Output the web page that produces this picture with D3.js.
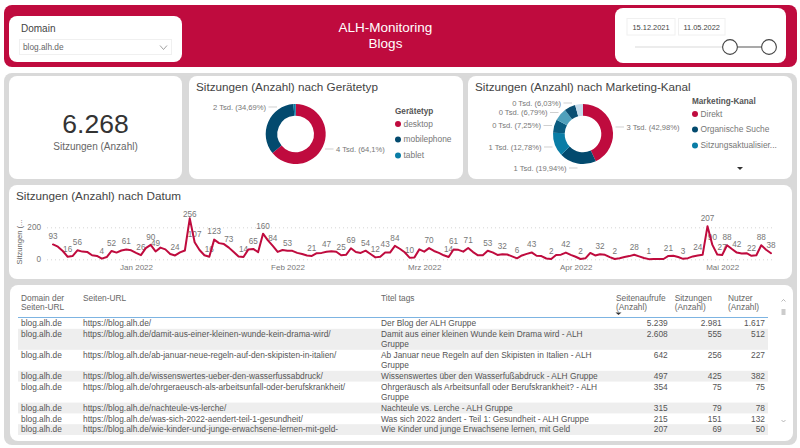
<!DOCTYPE html>
<html>
<head>
<meta charset="utf-8">
<script src="https://cdn.jsdelivr.net/npm/d3@7"></script>
<style>
  html, body { margin: 0; padding: 0; background: #fff; overflow: hidden; }
  svg { display: block; font-family: "Liberation Sans", Arial, sans-serif; }
</style>
</head>
<body>
<svg id="chart" width="800" height="448"></svg>
<script>
// --- data ---
const totalSessions = 6268;

const deviceNames = ["desktop", "mobilephone", "tablet"];
const deviceShares = [64.1, 34.69, 1.21];

const channelNames = ["Direkt", "Organische Suche", "Sitzungsaktualisier..."];
const channelShares = [42.98, 19.94, 12.78, 7.25, 6.79, 6.03, 4.23];

// Sitzungen pro Tag, 15.12.2021 - 11.05.2022
const dailySessions = [
  93, 79, 52, 16, 20, 56, 48, 46, 25, 21, 4, 14, 52, 42, 55, 61, 56, 40, 26, 70,
  90, 49, 73, 62, 33, 24, 43, 55, 256, 107, 58, 25, 16, 123, 101, 95, 73, 45, 17, 14,
  62, 65, 45, 160, 118, 84, 46, 58, 53, 53, 40, 33, 24, 21, 38, 40, 47, 51, 47, 25,
  28, 69, 46, 40, 54, 33, 12, 16, 43, 42, 84, 66, 44, 10, 12, 62, 48, 70, 52, 40,
  25, 14, 61, 59, 48, 71, 45, 25, 26, 53, 43, 27, 32, 30, 18, 6, 24, 34, 43, 22,
  20, 5, 2, 27, 29, 42, 28, 16, 2, 6, 40, 24, 32, 28, 14, 2, 7, 14, 20, 28,
  18, 8, 1, 2, 2, 2, 21, 22, 14, 3, 7, 18, 24, 28, 207, 90, 30, 27, 88, 64,
  42, 36, 38, 22, 25, 88, 60, 38
];
// Tage (Index in dailySessions), die eine Beschriftung haben
const labelledDays = [
  0, 3, 5, 10, 12, 15, 18, 20, 21, 25, 28, 29, 32, 33, 36, 39, 41, 43, 45, 48,
  53, 56, 59, 61, 64, 66, 68, 70, 73, 77, 81, 82, 85, 89, 92, 95, 98, 102, 105, 108,
  112, 115, 119, 122, 126, 129, 132, 134, 135, 137, 138, 140, 143, 145, 147
];
const monthNames = ["Jan 2022", "Feb 2022", "Mrz 2022", "Apr 2022", "Mai 2022"];
const yTicks = [0, 200];

const tableHeaders = [["Domain der", "Seiten-URL"], ["Seiten-URL"], ["Titel tags"],
  ["Seitenaufrufe", "(Anzahl)"], ["Sitzungen", "(Anzahl)"], ["Nutzer", "(Anzahl)"]];
const pageDomains = ["blog.alh.de", "blog.alh.de", "blog.alh.de", "blog.alh.de",
  "blog.alh.de", "blog.alh.de", "blog.alh.de", "blog.alh.de"];
const pageUrls = [
  "https://blog.alh.de/",
  "https://blog.alh.de/damit-aus-einer-kleinen-wunde-kein-drama-wird/",
  "https://blog.alh.de/ab-januar-neue-regeln-auf-den-skipisten-in-italien/",
  "https://blog.alh.de/wissenswertes-ueber-den-wasserfussabdruck/",
  "https://blog.alh.de/ohrgeraeusch-als-arbeitsunfall-oder-berufskrankheit/",
  "https://blog.alh.de/nachteule-vs-lerche/",
  "https://blog.alh.de/was-sich-2022-aendert-teil-1-gesundheit/",
  "https://blog.alh.de/wie-kinder-und-junge-erwachsene-lernen-mit-geld-"
];
const pageTitles = [
  "Der Blog der ALH Gruppe",
  "Damit aus einer kleinen Wunde kein Drama wird - ALH Gruppe",
  "Ab Januar neue Regeln auf den Skipisten in Italien - ALH Gruppe",
  "Wissenswertes über den Wasserfußabdruck - ALH Gruppe",
  "Ohrgeräusch als Arbeitsunfall oder Berufskrankheit? - ALH Gruppe",
  "Nachteule vs. Lerche - ALH Gruppe",
  "Was sich 2022 ändert - Teil 1: Gesundheit - ALH Gruppe",
  "Wie Kinder und junge Erwachsene lernen, mit Geld"
];
const pageViews = [5239, 2608, 642, 497, 354, 315, 215, 207];
const pageSessions = [2981, 555, 256, 425, 75, 79, 151, 69];
const pageUsers = [1617, 512, 227, 382, 75, 78, 132, 50];

// --- helpers ---
const crimson = "#bf0b3e";
const navy = "#034a6e";
const teal = "#0a7da6";
const textGrey = "#666";
const tableFont = 8.35;
const titleFont = 11.7;
const de = d3.formatLocale({ decimal: ",", thousands: ".", grouping: [3], currency: ["", " €"] });
const fmtInt = de.format(",d");
const fmtPct = de.format(".2~f");

const svg = d3.select("#chart");

function card(x, y, w, h, r, fill) {
  svg.append("rect").attr("x", x).attr("y", y).attr("width", w).attr("height", h)
    .attr("rx", r).attr("fill", fill || "#fff");
}
function label(x, y, str, size, color, anchor, weight) {
  return svg.append("text").attr("x", x).attr("y", y).attr("dy", "0.35em")
    .attr("font-size", size).attr("fill", color || textGrey)
    .attr("text-anchor", anchor || "start").attr("font-weight", weight || "normal")
    .text(str);
}
function sliceLabel(share) {
  return Math.round(share / 100 * totalSessions / 1000) + " Tsd. (" + fmtPct(share) + "%)";
}

// --- background panels ---
card(4, 5, 793, 62, 8, crimson);
card(4, 73, 793, 372, 8, "#d9d9d9");

// --- header ---
card(9, 16, 173, 46, 8);
label(21, 28, "Domain", 10, "#444");
svg.append("rect").attr("x", 19.5).attr("y", 39.5).attr("width", 152).attr("height", 15)
  .attr("fill", "#fff").attr("stroke", "#f0f0f0");
label(23, 47, "blog.alh.de", 8.3, textGrey);
svg.append("path").attr("d", "M160 45.5L163.5 49.5L167 45.5").attr("fill", "none")
  .attr("stroke", "#888").attr("stroke-width", 0.8);

label(385.5, 27, "ALH-Monitoring", 13.5, "#fff", "middle");
label(385.5, 43, "Blogs", 13.5, "#fff", "middle");

card(615, 8, 171, 55, 8);
[[627, 48, "15.12.2021"], [678.5, 46.5, "11.05.2022"]].forEach(function (b) {
  svg.append("rect").attr("x", b[0]).attr("y", 18.5).attr("width", b[1]).attr("height", 16.5)
    .attr("fill", "#fff").attr("stroke", "#f0f0f0");
  label(b[0] + b[1] / 2, 27, b[2], 7.4, "#444", "middle");
});
svg.append("line").attr("x1", 635).attr("x2", 730).attr("y1", 47).attr("y2", 47)
  .attr("stroke", "#e6e6e6").attr("stroke-width", 1.5);
svg.append("line").attr("x1", 730).attr("x2", 769).attr("y1", 47).attr("y2", 47)
  .attr("stroke", "#555").attr("stroke-width", 1.2);
[730, 769].forEach(function (cx) {
  svg.append("circle").attr("cx", cx).attr("cy", 47).attr("r", 7.4)
    .attr("fill", "#fff").attr("stroke", "#444").attr("stroke-width", 1.1);
});

// --- KPI ---
card(9, 76, 173, 103, 8);
label(95.5, 124, fmtInt(totalSessions), 26.5, "#333", "middle");
label(95.5, 146, "Sitzungen (Anzahl)", 10, textGrey, "middle");

// --- donuts ---
function donut(opts) {
  const arcs = d3.pie().sort(null)(opts.shares);
  const arc = d3.arc().innerRadius(18.3).outerRadius(30);
  const g = svg.append("g").attr("transform", "translate(" + opts.cx + ",134)");
  g.selectAll("path").data(arcs).enter().append("path")
    .attr("d", arc)
    .attr("fill", function (d, i) { return opts.colors[i]; });

  // labels with short leader lines
  opts.slots.forEach(function (s, i) {
    const side = s.x > opts.cx ? 1 : -1;
    svg.append("line").attr("x1", s.x - side * 2.5).attr("x2", s.x - side * 11)
      .attr("y1", s.y).attr("y2", s.y).attr("stroke", "#bbb").attr("stroke-width", 0.7);
    label(s.x, s.y, sliceLabel(opts.shares[i]), 7.6, "#777", side > 0 ? "start" : "end");
  });
}
function legend(x, titleY, title, names, colors, ys) {
  label(x, titleY, title, 8.2, "#555", "start", "bold");
  names.forEach(function (n, i) {
    svg.append("circle").attr("cx", x + 3).attr("cy", ys[i]).attr("r", 3).attr("fill", colors[i]);
    label(x + 8.5, ys[i], n, 8.4, "#777");
  });
}

card(189, 76, 274, 103, 8);
label(196, 87, "Sitzungen (Anzahl) nach Gerätetyp", titleFont, "#444");
donut({
  cx: 295.7, shares: deviceShares, colors: [crimson, navy, teal],
  slots: [{ x: 336, y: 149 }, { x: 266, y: 107 }]
});
legend(395, 111, "Gerätetyp", deviceNames, [crimson, navy, teal], [124, 139.5, 155.5]);

card(468, 76, 324, 103, 8);
label(475, 87, "Sitzungen (Anzahl) nach Marketing-Kanal", titleFont, "#444");
donut({
  cx: 583, shares: channelShares,
  colors: [crimson, navy, teal, "#0a5c80", "#4fa0bc", "#0b4f72", "#c5dcec"],
  slots: [{ x: 626.5, y: 127 }, { x: 566.5, y: 168 }, { x: 541.5, y: 147 },
    { x: 541, y: 125.5 }, { x: 547.5, y: 112.5 }, { x: 561, y: 103 }]
});
legend(692, 101, "Marketing-Kanal", channelNames, [crimson, navy, teal], [114, 129.5, 145.5]);
svg.append("path").attr("d", "M737 167L743 167L740 170Z").attr("fill", "#333");

// --- line chart ---
card(9, 185, 783, 94, 8);
label(16, 196, "Sitzungen (Anzahl) nach Datum", titleFont, "#444");
svg.append("text").attr("transform", "translate(19,242) rotate(-90)").attr("dy", "0.35em")
  .attr("text-anchor", "middle").attr("font-size", 7.6).attr("fill", textGrey).text("Sitzungen (...");

const days = d3.utcDay.range(new Date(Date.UTC(2021, 11, 15)), new Date(Date.UTC(2022, 4, 12)));
const xScale = d3.scaleUtc().domain(d3.extent(days)).range([53, 771]);
const yScale = d3.scaleLinear().domain([0, 200]).range([259.3, 227.3]);
const monthStarts = d3.utcMonth.range(new Date(Date.UTC(2022, 0, 1)), new Date(Date.UTC(2022, 5, 1)));

const yAxis = svg.append("g").attr("transform", "translate(47,0)")
  .call(d3.axisLeft(yScale).tickValues(yTicks).tickSize(-728).tickPadding(6));
yAxis.select(".domain").remove();
yAxis.selectAll("line").attr("stroke", "#ccc").attr("stroke-width", 0.8).attr("stroke-dasharray", "1 3");
yAxis.selectAll("text").attr("font-size", 8.2).attr("fill", "#777")
  .attr("font-family", "Liberation Sans");

const xAxis = svg.append("g").attr("transform", "translate(0,262)")
  .call(d3.axisBottom(xScale).tickValues(monthStarts).tickSize(0).tickPadding(2)
    .tickFormat(function (d, i) { return monthNames[i]; }));
xAxis.select(".domain").remove();
xAxis.selectAll("text").attr("font-size", 8).attr("fill", "#777")
  .attr("font-family", "Liberation Sans");

svg.append("g").selectAll("text").data(labelledDays).enter().append("text")
  .attr("x", function (i) { return xScale(days[i]); })
  .attr("y", function (i) { return Math.max(yScale(dailySessions[i]) - 8, 214); })
  .attr("dy", "0.35em").attr("text-anchor", "middle")
  .attr("font-size", 8.2).attr("fill", "#777")
  .text(function (i) { return dailySessions[i]; });

svg.append("path").datum(dailySessions)
  .attr("fill", "none").attr("stroke", crimson).attr("stroke-width", 2)
  .attr("stroke-linejoin", "round").attr("stroke-linecap", "round")
  .attr("d", d3.line()
    .x(function (d, i) { return xScale(days[i]); })
    .y(function (d) { return yScale(d); }));

// --- table ---
card(10, 285, 783, 156, 8);
const colLeft = [21, 83, 381, 616, 674.7, 728];
const colRight = [667.7, 721.7, 765];

tableHeaders.forEach(function (lines, c) {
  lines.forEach(function (t, n) {
    label(colLeft[c], 297.7 + n * 9.2, t, tableFont, textGrey);
  });
});
svg.append("path").attr("d", "M615.5 312.5L621.5 312.5L618.5 315Z").attr("fill", "#333");
svg.append("line").attr("x1", 18).attr("x2", 768).attr("y1", 317.5).attr("y2", 317.5)
  .attr("stroke", "#7db4e2").attr("stroke-width", 1);

// split a title into lines the width of the column
function wrapTitle(title) {
  const probe = svg.append("text").attr("font-size", tableFont);
  const lines = [];
  let current = "";
  title.split(" ").forEach(function (w) {
    const test = current ? current + " " + w : w;
    probe.text(test);
    if (probe.node().getComputedTextLength() > 226 && current) {
      lines.push(current);
      current = w;
    } else {
      current = test;
    }
  });
  lines.push(current);
  probe.remove();
  return lines;
}

let rowTop = 318;
pageUrls.forEach(function (url, r) {
  const lines = wrapTitle(pageTitles[r]);
  const rowH = 0.6 + lines.length * 10.2;
  if (r % 2 === 1) {
    svg.append("rect").attr("x", 18).attr("y", rowTop).attr("width", 750).attr("height", rowH)
      .attr("fill", "#eeeeee");
  }
  const textY = rowTop + 5.2;
  label(colLeft[0], textY, pageDomains[r], tableFont, "#555");
  label(colLeft[1], textY, url, tableFont, "#555");
  lines.forEach(function (t, n) {
    label(colLeft[2], textY + n * 10, t, tableFont, "#555");
  });
  [pageViews, pageSessions, pageUsers].forEach(function (col, c) {
    label(colRight[c], textY, fmtInt(col[r]), tableFont, "#555", "end");
  });
  rowTop += rowH;
});

// scrollbar
svg.append("rect").attr("x", 781.5).attr("y", 309).attr("width", 4).attr("height", 6).attr("fill", "#ccc");
["M781.5 301.5L783.5 299.5L785.5 301.5", "M781.5 420L783.5 422L785.5 420"].forEach(function (d) {
  svg.append("path").attr("d", d).attr("fill", "none").attr("stroke", "#999").attr("stroke-width", 0.7);
});
</script>
</body>
</html>
